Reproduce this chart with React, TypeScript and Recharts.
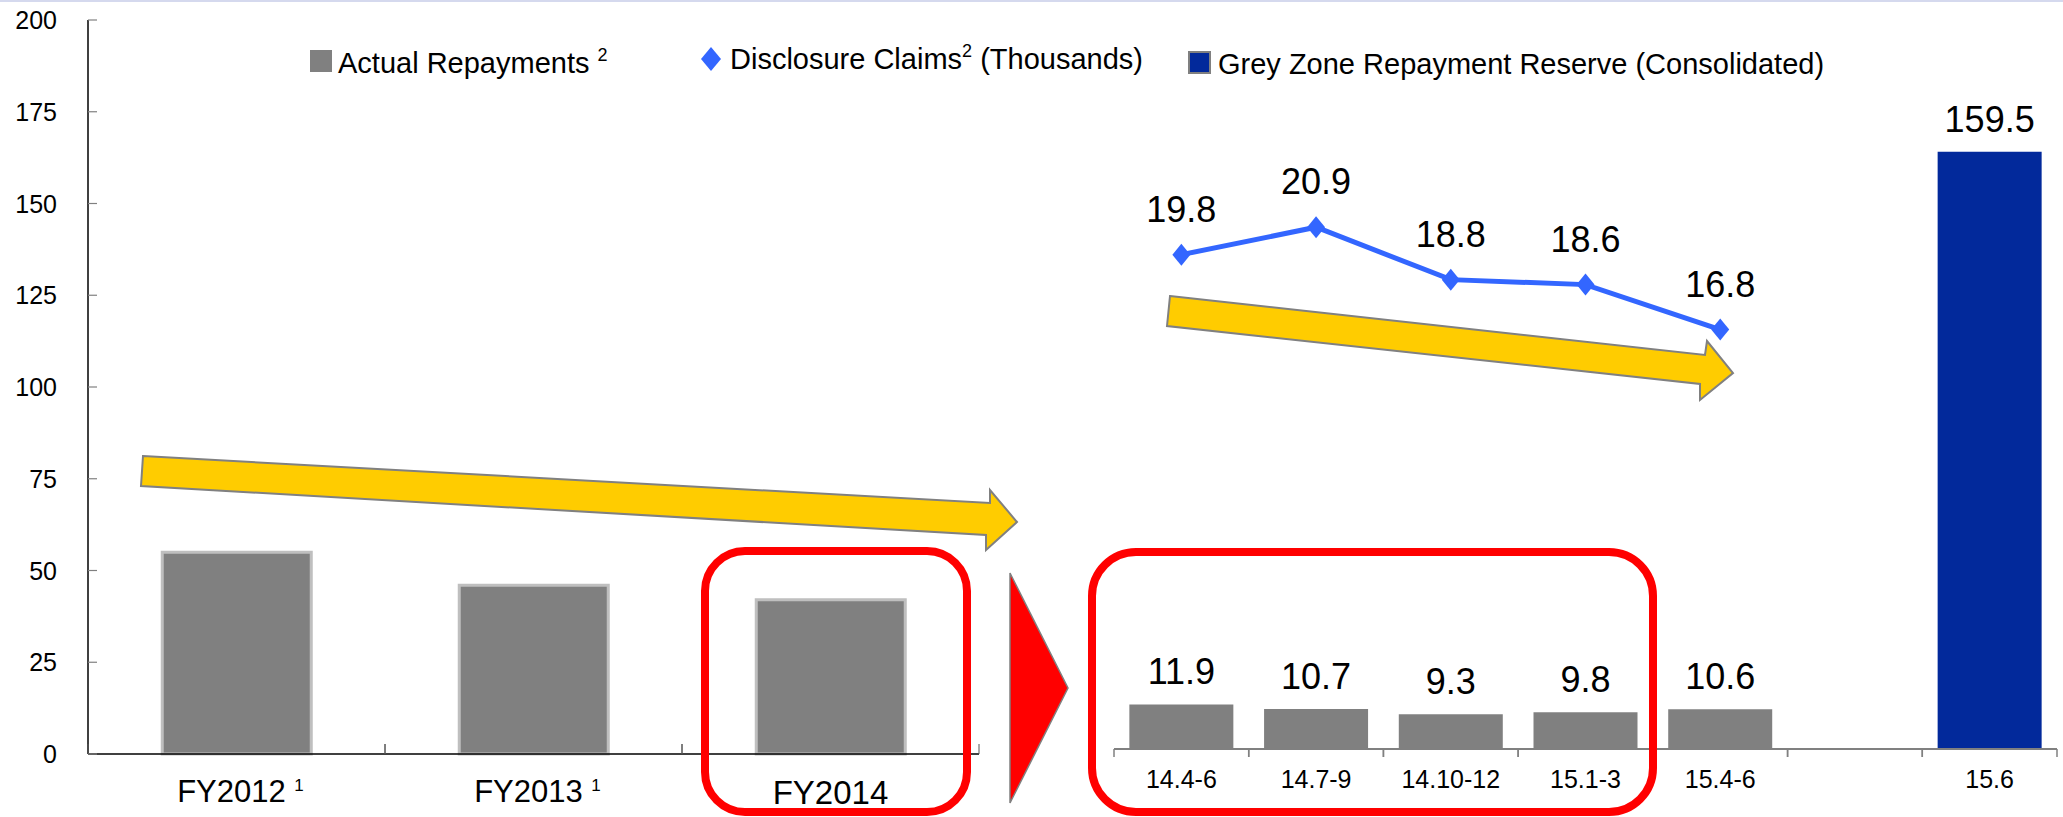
import React from 'react';
import { BarChart, ComposedChart, Bar, Line, XAxis, YAxis, LabelList } from 'recharts';

// ---------- data ----------
const fiscalYears = ['FY2012', 'FY2013', 'FY2014'];
const fiscalYearNotes = ['1', '1', ''];
const fiscalRepayments = [55, 46, 42];

const quarters = ['14.4-6', '14.7-9', '14.10-12', '15.1-3', '15.4-6', ' ', '15.6'];
const quarterRepayments: (number | null)[] = [11.9, 10.7, 9.3, 9.8, 10.6, null, null];
const disclosureClaims: (number | null)[] = [19.8, 20.9, 18.8, 18.6, 16.8, null, null];
const greyZoneReserve: (number | null)[] = [null, null, null, null, null, null, 159.5];

const yTicks = [0, 25, 50, 75, 100, 125, 150, 175, 200];

const legendLabels = {
  repay: 'Actual Repayments',
  claims: 'Disclosure Claims',
  claimsUnit: '(Thousands)',
  reserve: 'Grey Zone Repayment Reserve (Consolidated)',
};

const leftData = fiscalYears.map((y, i) => ({ year: y, note: fiscalYearNotes[i], value: fiscalRepayments[i] }));
const rightData = quarters.map((q, i) => ({
  q,
  repay: quarterRepayments[i],
  claims: disclosureClaims[i],
  reserve: greyZoneReserve[i],
}));

// ---------- styles ----------
const FONT = '"Liberation Sans", Arial, Helvetica, sans-serif';
const GREY = '#808080';
const BLUE_LINE = '#3366FF';
const NAVY = '#02299B';
const GOLD = '#FFCC00';
const RED = '#FF0000';

const LEFT_W = 1000;
const LEFT_MARGIN = { top: 20, right: 21, bottom: 0, left: 0 };
const LEFT_YAXIS_W = 88;
const LEFT_HALF_BAND = (LEFT_W - LEFT_MARGIN.right - LEFT_YAXIS_W) / fiscalYears.length / 2;

const RIGHT_X = 1000;
const RIGHT_W = 1063;
const RIGHT_MARGIN = { top: 0, right: 6, bottom: 0, left: 114 };
const RIGHT_HALF_BAND = (RIGHT_W - RIGHT_MARGIN.left - RIGHT_MARGIN.right) / quarters.length / 2;

// ---------- custom pieces ----------
const YTick = (props: any) => {
  const { x, y, payload } = props;
  return (
    <g>
      <line x1={x + 31} x2={x + 40} y1={y} y2={y} stroke={GREY} strokeWidth={1.2} />
      <text x={x} y={y} dy="0.36em" textAnchor="end" fontSize={25} fontFamily={FONT} fill="#000">
        {payload.value}
      </text>
    </g>
  );
};

const FyTick = (props: any) => {
  const { x, y, payload, index } = props;
  const note = fiscalYearNotes[index ?? payload.index] || '';
  return (
    <g>
      <line x1={x - LEFT_HALF_BAND} x2={x - LEFT_HALF_BAND} y1={y} y2={y - 10} stroke="#555" strokeWidth={1} />
      <line x1={x + LEFT_HALF_BAND} x2={x + LEFT_HALF_BAND} y1={y} y2={y - 10} stroke="#555" strokeWidth={1} />
      <text x={note ? x + 4 : x} y={note ? y + 48 : y + 50} textAnchor="middle" fontSize={note ? 31 : 33} fontFamily={FONT} fill="#000">
        <tspan>{payload.value}</tspan>
        {note ? (
          <>
            <tspan> </tspan>
            <tspan fontSize={17} dy={-11}>{note}</tspan>
          </>
        ) : null}
      </text>
    </g>
  );
};

const QTick = (props: any) => {
  const { x, y, payload } = props;
  return (
    <g>
      <line x1={x - RIGHT_HALF_BAND} x2={x - RIGHT_HALF_BAND} y1={y} y2={y + 8} stroke={GREY} strokeWidth={1.5} />
      <line x1={x + RIGHT_HALF_BAND} x2={x + RIGHT_HALF_BAND} y1={y} y2={y + 8} stroke={GREY} strokeWidth={1.5} />
      <text x={x} y={y + 39} textAnchor="middle" fontSize={25} fontFamily={FONT} fill="#000">
        {payload.value}
      </text>
    </g>
  );
};

const Diamond = (props: any) => {
  const { cx, cy } = props;
  if (cx == null || cy == null) return null;
  return (
    <polygon
      points={`${cx},${cy - 11} ${cx + 9},${cy} ${cx},${cy + 11} ${cx - 9},${cy}`}
      fill={BLUE_LINE}
    />
  );
};

const makeTopLabel = (gap: number) => (props: any) => {
  const { value } = props;
  if (value == null || value === '') return null;
  const vb = props.viewBox || {};
  const x = vb.x ?? props.x;
  const y = vb.y ?? props.y;
  const w = vb.width ?? props.width ?? 0;
  if (x == null || y == null) return null;
  return (
    <text x={x + w / 2} y={y - gap} textAnchor="middle" fontSize={36} fontFamily={FONT} fill="#000">
      {value}
    </text>
  );
};

const barLabel = makeTopLabel(20);
const lineLabel = makeTopLabel(33);

// ---------- decorations ----------
const Decorations = () => (
  <svg
    width={2063}
    height={817}
    style={{ position: 'absolute', left: 0, top: 0, pointerEvents: 'none' }}
  >
    <rect x={0} y={0} width={2063} height={2} fill="#D5D9EE" />
    {/* legend */}
    <rect x={310} y={50} width={22} height={22} fill={GREY} />
    <text x={338} y={73} fontSize={29} fontFamily={FONT} fill="#000">
      <tspan>{legendLabels.repay} </tspan>
      <tspan fontSize={18} dy={-12}>2</tspan>
    </text>
    <polygon points="711,47 721,59 711,71 701,59" fill={BLUE_LINE} />
    <text x={730} y={69} fontSize={29} fontFamily={FONT} fill="#000">
      <tspan>{legendLabels.claims}</tspan>
      <tspan fontSize={18} dy={-12}>2</tspan>
      <tspan dy={12}> {legendLabels.claimsUnit}</tspan>
    </text>
    <rect x={1189} y={52} width={21} height={21} fill={NAVY} stroke={GREY} strokeWidth={2} />
    <text x={1218} y={74} fontSize={29} fontFamily={FONT} fill="#000">
      {legendLabels.reserve}
    </text>

    {/* trend arrows */}
    <polygon
      points="143,456 990,503 990,490 1017,522 986,550 986,535 141,486"
      fill={GOLD}
      stroke={GREY}
      strokeWidth={2}
    />
    <polygon
      points="1170,296 1705,355 1707,341 1733,373 1700,400 1700,384 1167,326"
      fill={GOLD}
      stroke={GREY}
      strokeWidth={2}
    />

    {/* highlight boxes */}
    <rect x={705} y={551} width={262} height={261} rx={40} ry={40} fill="none" stroke={RED} strokeWidth={8} />
    <rect x={1092} y={552} width={561} height={260} rx={44} ry={44} fill="none" stroke={RED} strokeWidth={8} />
    <polygon points="1010,573 1068,688 1010,803" fill={RED} stroke={GREY} strokeWidth={1.5} />
  </svg>
);

// ---------- app ----------
export default function App() {
  return (
    <div style={{ position: 'absolute', left: 0, top: 0, width: 2063, height: 817, background: '#fff', overflow: 'hidden' }}>
      <div style={{ position: 'absolute', left: 0, top: 0 }}>
        <BarChart width={LEFT_W} height={817} data={leftData} margin={LEFT_MARGIN} barCategoryGap="25%">
          <XAxis
            dataKey="year"
            interval={0}
            height={63}
            tickSize={0}
            tickMargin={0}
            tickLine={false}
            axisLine={{ stroke: '#000', strokeWidth: 1.5 }}
            tick={<FyTick />}
          />
          <YAxis
            domain={[0, 200]}
            ticks={yTicks}
            interval={0}
            width={LEFT_YAXIS_W}
            tickSize={0}
            tickMargin={31}
            tickLine={false}
            axisLine={{ stroke: '#000', strokeWidth: 1.5 }}
            tick={<YTick />}
          />
          <Bar dataKey="value" fill={GREY} stroke="#BFBFBF" strokeWidth={3} isAnimationActive={false} />
        </BarChart>
      </div>
      <div style={{ position: 'absolute', left: RIGHT_X, top: 0 }}>
        <ComposedChart width={RIGHT_W} height={817} data={rightData} margin={RIGHT_MARGIN} barCategoryGap="11.4%">
          <XAxis
            dataKey="q"
            interval={0}
            height={68}
            tickSize={0}
            tickMargin={0}
            tickLine={false}
            axisLine={{ stroke: GREY, strokeWidth: 2 }}
            tick={<QTick />}
          />
          <YAxis yAxisId="bar" domain={[0, 200]} hide />
          <YAxis yAxisId="line" orientation="right" domain={[0, 30]} hide />
          <Bar yAxisId="bar" dataKey="repay" stackId="s" fill={GREY} isAnimationActive={false}>
            <LabelList dataKey="repay" content={barLabel} />
          </Bar>
          <Bar yAxisId="bar" dataKey="reserve" stackId="s" fill={NAVY} isAnimationActive={false}>
            <LabelList dataKey="reserve" content={barLabel} />
          </Bar>
          <Line
            yAxisId="line"
            dataKey="claims"
            stroke={BLUE_LINE}
            strokeWidth={5}
            dot={<Diamond />}
            activeDot={false}
            isAnimationActive={false}
          >
            <LabelList dataKey="claims" content={lineLabel} />
          </Line>
        </ComposedChart>
      </div>
      <Decorations />
    </div>
  );
}
